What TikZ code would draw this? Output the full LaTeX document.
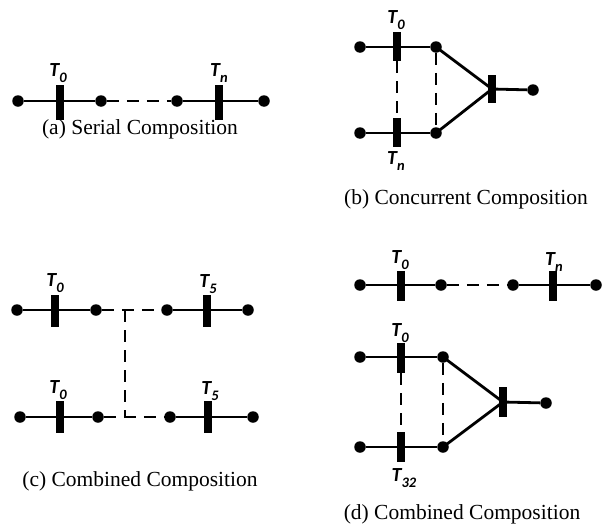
\documentclass[tikz,border=0pt]{standalone}
\usepackage{fontspec}
\setmainfont{Liberation Serif}
\newfontfamily\tlabelfont{Carlito}
\newcommand{\tsub}[1]{{\tlabelfont\bfseries\itshape\fontsize{20}{20}\selectfont T\raisebox{-5.5pt}{\fontsize{14.5}{14.5}\selectfont #1}}}
\begin{document}
\begin{tikzpicture}[x=1pt,y=-1pt,
  place/.style={circle,fill=black,inner sep=0pt,minimum size=11.5pt},
  bar/.style={rectangle,fill=black,inner sep=0pt,minimum width=7.5pt,minimum height=#1},
  bar/.default=32pt,
  arc/.style={line width=2.8pt},
  link/.style={line width=2.9pt,dash pattern=on 12pt off 8pt},
  tlabel/.style={inner sep=0pt},
  caption/.style={inner sep=0pt,font=\fontsize{21.5}{25}\selectfont}]
\useasboundingbox (0,0) rectangle (602,525);

% ---------- (a) serial composition ----------
\node[place] (a1) at (18,101) {};
\node[place] (a2) at (101,101) {};
\node[place] (a3) at (177,101) {};
\node[place] (a4) at (264,101) {};
\draw[arc] (a1) -- (a2);
\draw[arc] (a3) -- (a4);
\draw[link] (a2) -- (a3);
\node[bar=35pt] (at1) at (60,102) {};
\node[bar=35pt] (at2) at (219,102) {};
\node[tlabel] (la1) at (58,73) {\tsub{0}};
\node[tlabel] (la2) at (219,73) {\tsub{n}};
\node[caption] (ca) at (140,129) {(a) Serial Composition};

% ---------- (b) concurrent composition ----------
\node[place] (b1) at (360,47) {};
\node[place] (b2) at (436,47) {};
\node[place] (b3) at (360,133) {};
\node[place] (b4) at (436,133) {};
\node[place] (b5) at (533,90) {};
\coordinate (bj) at (492,89);
\draw[arc] (b1) -- (b2);
\draw[arc] (b3) -- (b4);
\draw[arc] (b2.center) -- (bj);
\draw[arc] (b4.center) -- (bj);
\draw[arc] (bj) -- (b5);
\node[bar=29pt] (bt1) at (397,46.5) {};
\node[bar=29pt] (bt2) at (397,132.5) {};
\node[bar=28pt] (bt3) at (bj) {};
\draw[link] (bt1.south) -- (bt2.north);
\draw[link] (b2) -- (b4);
\node[tlabel] (lb1) at (396,20) {\tsub{0}};
\node[tlabel] (lb2) at (396,161) {\tsub{n}};
\node[caption] (cb) at (466,199) {(b) Concurrent Composition};

% ---------- (c) combined composition ----------
\node[place] (c1) at (17,310) {};
\node[place] (c2) at (96,310) {};
\node[place] (c3) at (167,310) {};
\node[place] (c4) at (248,310) {};
\node[place] (c5) at (20,417) {};
\node[place] (c6) at (98,417) {};
\node[place] (c7) at (170,417) {};
\node[place] (c8) at (253,417) {};
\coordinate (cj1) at (125,310);
\coordinate (cj2) at (125,417);
\draw[arc] (c1) -- (c2);
\draw[arc] (c3) -- (c4);
\draw[arc] (c5) -- (c6);
\draw[arc] (c7) -- (c8);
\draw[link] (c2) -- (c3);
\draw[link] (c6) -- (c7);
\draw[link] (cj1) -- (cj2);
\node[bar=32pt] (ct1) at (55,311) {};
\node[bar=32pt] (ct2) at (207,311) {};
\node[bar=32pt] (ct3) at (60,417) {};
\node[bar=32pt] (ct4) at (208,417) {};
\node[tlabel] (lc1) at (55,283) {\tsub{0}};
\node[tlabel] (lc2) at (208,284) {\tsub{5}};
\node[tlabel] (lc3) at (58,390) {\tsub{0}};
\node[tlabel] (lc4) at (210,391) {\tsub{5}};
\node[caption] (cc) at (140,481) {(c) Combined Composition};

% ---------- (d) combined composition ----------
\node[place] (d1) at (360,285) {};
\node[place] (d2) at (441,285) {};
\node[place] (d3) at (513,285) {};
\node[place] (d4) at (596,285) {};
\draw[arc] (d1) -- (d2);
\draw[arc] (d3) -- (d4);
\draw[link] (d2) -- (d3);
\node[bar=30pt] (dt1) at (401,286) {};
\node[bar=30pt] (dt2) at (553,286) {};
\node[tlabel] (ld1) at (400,260) {\tsub{0}};
\node[tlabel] (ld2) at (554,262) {\tsub{n}};

\node[place] (d5) at (360,357) {};
\node[place] (d6) at (443,357) {};
\node[place] (d7) at (360,447) {};
\node[place] (d8) at (443,447) {};
\node[place] (d9) at (546,403) {};
\coordinate (dj) at (503,402);
\draw[arc] (d5) -- (d6);
\draw[arc] (d7) -- (d8);
\draw[arc] (d6.center) -- (dj);
\draw[arc] (d8.center) -- (dj);
\draw[arc] (dj) -- (d9);
\node[bar=30pt] (dt3) at (401,358) {};
\node[bar=30pt] (dt4) at (401,447) {};
\node[bar=30pt] (dt5) at (dj) {};
\draw[link] (dt3.south) -- (dt4.north);
\draw[link] (d6) -- (d8);
\node[tlabel] (ld3) at (400,333) {\tsub{0}};
\node[tlabel] (ld4) at (404,478) {\tsub{32}};
\node[caption] (cd) at (462,514) {(d) Combined Composition};
\end{tikzpicture}
\end{document}
